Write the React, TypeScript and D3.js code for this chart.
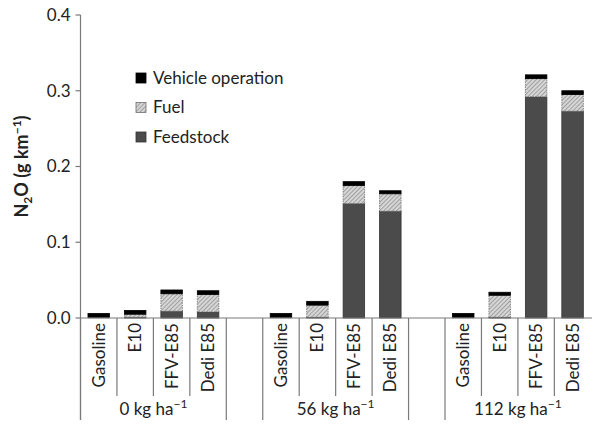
import React from "react";
import * as d3 from "d3";

const groups = ["0", "56", "112"];
const fuels = ["Gasoline", "E10", "FFV-E85", "Dedi E85"];
// one value per bar, groups in order (0, 56, 112 kg ha-1) x fuels
const feedstock = [0, 0.001, 0.009, 0.008, 0, 0.001, 0.151, 0.141, 0, 0.001, 0.292, 0.273];
const fuel = [0.001, 0.004, 0.023, 0.023, 0.001, 0.016, 0.024, 0.023, 0.001, 0.029, 0.024, 0.022];
const vehicle = [0.005, 0.005, 0.005, 0.005, 0.005, 0.005, 0.005, 0.004, 0.005, 0.004, 0.005, 0.005];
const yTicks = [0, 0.1, 0.2, 0.3, 0.4];
const seriesKeys = ["feedstock", "fuel", "vehicle"];
const legendItems = [
  { key: "vehicle", label: "Vehicle operation" },
  { key: "fuel", label: "Fuel" },
  { key: "feedstock", label: "Feedstock" },
];

const W = 600;
const H = 428;
const left = 80.5;
const step = 36.45;
const FONT = "Lato, 'Open Sans', sans-serif";
const FS = 17;

const fills: Record<string, string> = {
  feedstock: "#4b4b4b",
  fuel: "url(#hatch)",
  vehicle: "#000",
};
const strokes: Record<string, string> = {
  feedstock: "#333",
  fuel: "#6f6f6f",
  vehicle: "#000",
};

const App = () => {
  // 14 slots: 4 bars per group with an empty slot between groups
  const slots: string[] = [];
  groups.forEach((g, gi) => {
    fuels.forEach(f => slots.push(g + "|" + f));
    if (gi < groups.length - 1) slots.push("gap" + gi);
  });

  const x = d3
    .scaleBand()
    .domain(slots)
    .range([left, left + step * slots.length])
    .paddingInner(0.41)
    .paddingOuter(0.205);
  const y = d3.scaleLinear().domain([0, 0.4]).range([318, 15]);

  const rows = feedstock.map((v, i) => ({
    id: groups[Math.floor(i / 4)] + "|" + fuels[i % 4],
    feedstock: v,
    fuel: fuel[i],
    vehicle: vehicle[i],
  }));
  const stacked = d3.stack<any>().keys(seriesKeys)(rows);

  const slotLeft = (id: string) => x(id)! - (x.step() - x.bandwidth()) / 2;
  const y0 = y(0);

  return (
    <svg width={W} height={H} style={{ display: "block", margin: "-8px", fontFamily: FONT }}>
      <defs>
        <pattern id="hatch" width={3} height={3} patternUnits="userSpaceOnUse" patternTransform="rotate(45)">
          <rect width={3} height={3} fill="#d6d6d6" />
          <line x1={0} y1={0} x2={0} y2={3} stroke="#7c7c7c" strokeWidth={1.2} />
        </pattern>
      </defs>

      {/* y axis */}
      <line x1={left} x2={left} y1={y(0.4)} y2={H} stroke="#7a7a7a" strokeWidth={1.2} />
      {yTicks.map(t => (
        <g key={t}>
          <line x1={left - 5} x2={left} y1={y(t)} y2={y(t)} stroke="#7a7a7a" strokeWidth={1.2} />
          <text x={left - 10} y={y(t)} dy="0.35em" textAnchor="end" fontSize={FS} fill="#222">
            {d3.format(".1f")(t)}
          </text>
        </g>
      ))}
      <text
        transform={`translate(28,${(y(0.4) + y0) / 2}) rotate(-90)`}
        textAnchor="middle"
        fontSize={18}
        fontWeight="bold"
        fill="#222"
      >
        N<tspan fontSize={12} dy={4}>2</tspan>
        <tspan dy={-4}>O (g km</tspan>
        <tspan fontSize={12} dy={-7}>−1</tspan>
        <tspan dy={7}>)</tspan>
      </text>

      {/* bars */}
      {stacked.map(s => (
        <g key={s.key}>
          {s.map(d => {
            const top = y(d[1]);
            const h = y(d[0]) - top;
            if (h <= 0) return null;
            return (
              <rect
                key={d.data.id}
                x={x(d.data.id)}
                y={top}
                width={x.bandwidth()}
                height={h}
                fill={fills[s.key]}
                stroke={strokes[s.key]}
                strokeWidth={0.8}
                strokeDasharray={s.key === "fuel" ? "1.5 1" : undefined}
              />
            );
          })}
        </g>
      ))}

      {/* x axis */}
      <line x1={left} x2={W} y1={y0} y2={y0} stroke="#7a7a7a" strokeWidth={1.2} />
      {slots.map((id, i) => {
        const xl = slotLeft(id);
        const long = i === 0 || id.startsWith("gap") || slots[i - 1].startsWith("gap");
        return (
          <line
            key={"d" + id}
            x1={xl}
            x2={xl}
            y1={y0}
            y2={long ? H : 396}
            stroke="#7a7a7a"
            strokeWidth={1.2}
          />
        );
      })}
      {slots
        .filter(id => !id.startsWith("gap"))
        .map(id => {
          const cx = x(id)! + x.bandwidth() / 2;
          return (
            <text
              key={"l" + id}
              transform={`translate(${cx + 6},${y0 + 5}) rotate(-90)`}
              textAnchor="end"
              fontSize={FS}
              fill="#222"
            >
              {id.split("|")[1]}
            </text>
          );
        })}
      {groups.map(g => {
        const first = slotLeft(g + "|" + fuels[0]);
        const last = slotLeft(g + "|" + fuels[fuels.length - 1]) + x.step();
        return (
          <text key={"g" + g} x={(first + last) / 2} y={415} textAnchor="middle" fontSize={FS} fill="#222">
            {g} kg ha<tspan fontSize={12} dy={-7}>−1</tspan>
          </text>
        );
      })}

      {/* legend */}
      {legendItems.map((it, i) => (
        <g key={it.key} transform={`translate(136,${73 + i * 29.5})`}>
          <rect width={10} height={10} fill={fills[it.key]} stroke={strokes[it.key]} strokeWidth={0.8} />
          <text x={17} y={5} dy="0.35em" fontSize={FS} fill="#222">
            {it.label}
          </text>
        </g>
      ))}
    </svg>
  );
};

export default App;
